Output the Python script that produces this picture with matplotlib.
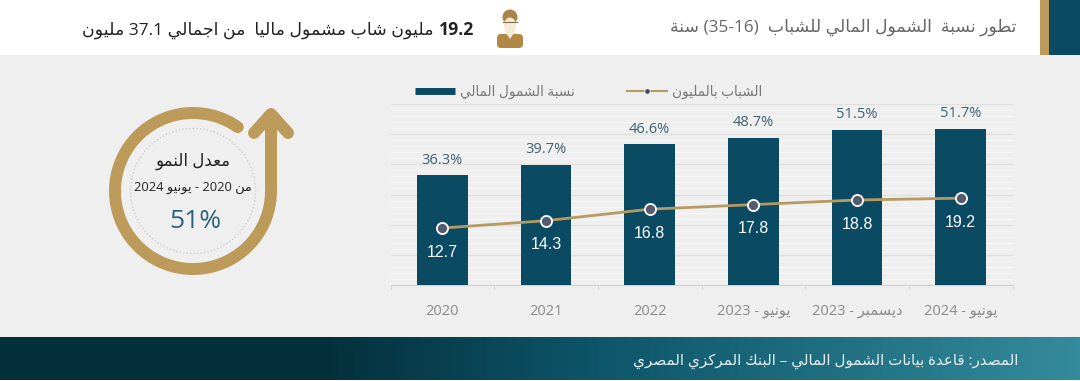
import re
import numpy as np
import matplotlib
matplotlib.use('Agg')
import matplotlib.pyplot as plt
from matplotlib.colors import LinearSegmentedColormap
from matplotlib.lines import Line2D
from matplotlib.patches import Circle, Ellipse, FancyBboxPatch, Polygon, Rectangle
from matplotlib.ticker import MultipleLocator, NullFormatter

plt.rcParams['font.family'] = ['Open Sans', 'DejaVu Sans']

categories = ['2020', '2021', '2022', 'يونيو - 2023', 'ديسمبر - 2023', 'يونيو - 2024']
inclusion_pct = [36.3, 39.7, 46.6, 48.7, 51.5, 51.7]
youth_millions = [12.7, 14.3, 16.8, 17.8, 18.8, 19.2]

title_txt = 'تطور نسبة  الشمول المالي للشباب  (35-16) سنة'
sub_bold = '19.2'
sub_txt = 'مليون شاب مشمول ماليا  من اجمالي 37.1 مليون'
legend_bar = 'نسبة الشمول المالي'
legend_line = 'الشباب بالمليون'
growth_head = 'معدل النمو'
growth_period = 'من 2020 - يونيو 2024'
growth_value = '51%'
source_txt = 'المصدر: قاعدة بيانات الشمول المالي – البنك المركزي المصري'

TEAL = '#0b4a63'
GOLD = '#bc9a5a'
GREY_BG = '#efefef'

# matplotlib does no arabic shaping, so pick the presentation forms by hand
DUAL = {'ئ': 0xFE89, 'ب': 0xFE8F, 'ت': 0xFE95, 'ث': 0xFE99, 'ج': 0xFE9D, 'ح': 0xFEA1,
        'خ': 0xFEA5, 'س': 0xFEB1, 'ش': 0xFEB5, 'ص': 0xFEB9, 'ض': 0xFEBD, 'ط': 0xFEC1,
        'ظ': 0xFEC5, 'ع': 0xFEC9, 'غ': 0xFECD, 'ف': 0xFED1, 'ق': 0xFED5, 'ك': 0xFED9,
        'ل': 0xFEDD, 'م': 0xFEE1, 'ن': 0xFEE5, 'ه': 0xFEE9, 'ي': 0xFEF1}
RIGHT = {'آ': 0xFE81, 'أ': 0xFE83, 'ؤ': 0xFE85, 'إ': 0xFE87, 'ا': 0xFE8D, 'ة': 0xFE93,
         'د': 0xFEA9, 'ذ': 0xFEAB, 'ر': 0xFEAD, 'ز': 0xFEAF, 'و': 0xFEED, 'ى': 0xFEEF}


def shape(s):
    out = []
    for i, c in enumerate(s):
        if c not in DUAL and c not in RIGHT:
            out.append(c)
            continue
        before = i > 0 and s[i - 1] in DUAL
        after = i < len(s) - 1 and (s[i + 1] in DUAL or s[i + 1] in RIGHT)
        if c in RIGHT:
            out.append(chr(RIGHT[c] + (1 if before else 0)))
        elif before and after:
            out.append(chr(DUAL[c] + 3))
        elif after:
            out.append(chr(DUAL[c] + 2))
        elif before:
            out.append(chr(DUAL[c] + 1))
        else:
            out.append(chr(DUAL[c]))
    vis = ''.join(out)[::-1]
    vis = re.sub(r'[0-9][0-9.\-]*[0-9]', lambda m: m.group(0)[::-1], vis)
    return vis.translate(str.maketrans('()', ')('))


fig = plt.figure(figsize=(10.8, 3.81), dpi=100, facecolor=GREY_BG)

# decoration layer in pixel coordinates
bg = fig.add_axes([0, 0, 1, 1], zorder=0)
bg.axis('off')
grad = LinearSegmentedColormap.from_list('band', [(0, '#04303c'), (0.3, '#04303c'), (0.56, '#0e566a'), (1, '#348b9b')])
bg.imshow(np.linspace(0, 1, 512).reshape(1, -1), cmap=grad, aspect='auto', extent=(0, 1080, 380, 337))
bg.set_xlim(0, 1080)
bg.set_ylim(381, 0)
bg.add_patch(Rectangle((0, 0), 1080, 55, fc='white', ec='none'))
bg.add_patch(Rectangle((1040, 0), 9, 55, fc=GOLD, ec='none'))
bg.add_patch(Rectangle((1049, 0), 31, 55, fc=TEAL, ec='none'))
bg.add_patch(Rectangle((0, 380), 1080, 1, fc='white', ec='none'))

bg.text(1016, 27, shape(title_txt), ha='right', va='center', fontsize=12.4, color='#666666')
bg.text(474, 30, sub_bold, ha='right', va='center', fontsize=12.7, fontweight='bold', color='#222222')
bg.text(433, 30, shape(sub_txt), ha='right', va='center', fontsize=12.5, color='#222222')
bg.text(1018, 361, shape(source_txt), ha='right', va='center', fontsize=10.9, color='#e6eef0')

# person icon
bg.add_patch(FancyBboxPatch((497, 34), 26, 14, boxstyle='round,pad=0,rounding_size=4', fc='#b08a45', ec='none'))
bg.add_patch(Polygon([(504, 30), (516, 30), (510, 39)], fc='#f3ead8', ec='none'))
bg.add_patch(Ellipse((510, 17), 15, 15, fc='#a9854a', ec='none'))
bg.add_patch(Ellipse((510, 25), 12, 15, fc='#f3ead8', ec='none'))
bg.plot([503, 517], [22, 22], color='#8a7040', lw=0.8)

# growth ring with arrow
ring = np.radians(np.linspace(55, 360, 200))
cx, cy, r = 193, 191, 78
bg.plot(cx + r * np.cos(ring), cy - r * np.sin(ring), color=GOLD, lw=8.6, solid_capstyle='round')
bg.plot([271, 271], [191, 115], color=GOLD, lw=8.6, solid_capstyle='round')
bg.plot([254, 271, 288], [133, 114, 133], color=GOLD, lw=8.6, solid_capstyle='round', solid_joinstyle='round')
bg.add_patch(Circle((cx, cy), 62.5, fc='none', ec='#cccccc', lw=1, ls=(0, (1, 1.5))))
bg.text(193, 161, shape(growth_head), ha='center', va='center', fontsize=12, color='#222222')
bg.text(193, 188, shape(growth_period), ha='center', va='center', fontsize=9.3, color='#222222')
bg.text(195, 222, growth_value, ha='center', va='center', fontsize=19, color='#2b6379')

# chart
x = np.arange(len(categories))
ax = fig.add_axes([390.5 / 1080, 1 - 285 / 381, 622 / 1080, 181 / 381], zorder=1)
ax.patch.set_alpha(0)
ax.bar(x, inclusion_pct, width=0.49, color=TEAL, zorder=3)
ax.set_xlim(-0.5, 5.5)
ax.set_ylim(0, 60)
ax.yaxis.set_major_locator(MultipleLocator(10))
ax.yaxis.set_minor_locator(MultipleLocator(2))
ax.yaxis.set_major_formatter(NullFormatter())
ax.tick_params(axis='y', which='both', length=0)
ax.grid(axis='y', which='minor', color='#f5f5f5', lw=0.8, zorder=0)
ax.grid(axis='y', which='major', color='#e0e0e0', lw=1, zorder=1)
ax.set_axisbelow(True)
for s in ['top', 'left', 'right']:
    ax.spines[s].set_visible(False)
ax.spines['bottom'].set_color('#d2d2d2')
ax.set_xticks(x)
ax.set_xticklabels([shape(c) for c in categories], fontsize=10.5, color='#8a8a8a')
ax.set_xticks(np.arange(-0.5, 6), minor=True)
ax.tick_params(axis='x', which='major', length=0, pad=13.5)
ax.tick_params(axis='x', which='minor', length=3, color='#d2d2d2')

for xi, v in zip(x, inclusion_pct):
    ax.annotate(f'{v}%', (xi, v), xytext=(0, 11), textcoords='offset points',
                ha='center', va='center', fontsize=10.5, color='#3f6272')

ax2 = ax.twinx()
ax2.patch.set_alpha(0)
ax2.plot(x, youth_millions, color='#b59a62', lw=2, marker='o', ms=8, mfc='#555a6e', mec='white', mew=1.3, zorder=5)
ax2.set_ylim(0.3, 39.7)
ax2.axis('off')
for xi, v in zip(x, youth_millions):
    ax2.annotate(f'{v}', (xi, v), xytext=(0, -17.5), textcoords='offset points', ha='center', va='center',
                 fontsize=11.5, color='white', family='Liberation Sans')

handles = [Line2D([], [], color=TEAL, lw=5, solid_capstyle='butt'),
           Line2D([], [], color='#b59a62', lw=1.5, marker='o', ms=4, mfc='#3c4a5a', mec='white', mew=0.6)]
leg = ax.legend(handles, [shape(legend_bar), shape(legend_line)], ncol=2, frameon=False, fontsize=9.8,
                labelcolor='#777777', handlelength=2.95, handletextpad=0.35, columnspacing=3.8,
                loc='center', bbox_to_anchor=(588.5, 92.5), bbox_transform=bg.transData, borderpad=0)

fig.savefig('out.png', dpi=100, facecolor=fig.get_facecolor())
